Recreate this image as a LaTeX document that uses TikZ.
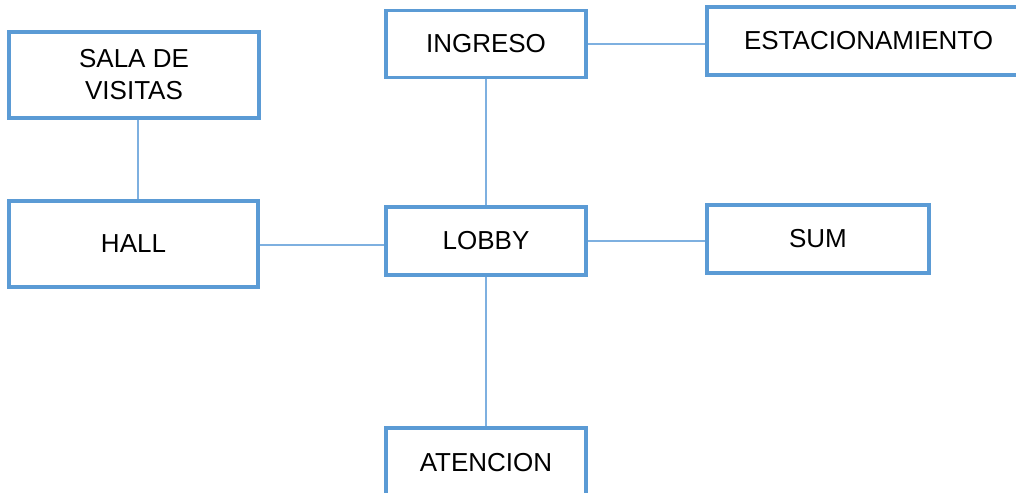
\documentclass[tikz,border=0pt]{standalone}
\usepackage{fontspec}
\setmainfont{Liberation Sans}
\definecolor{boxblue}{HTML}{5B9BD5}
\definecolor{linkblue}{HTML}{7EB0E0}
\tikzset{
  room/.style={draw=boxblue, line width=2.3pt, fill=white, rectangle,
    align=center, inner sep=0pt, text depth=1.2pt,
    font=\fontsize{19.5}{24}\selectfont},
  link/.style={draw=linkblue, line width=1.3pt}
}
\begin{document}
\begin{tikzpicture}[x=0.75pt,y=-0.75pt]
  \clip (0,0) rectangle (1016,492);
  \fill[white] (0,0) rectangle (1016,492);

  % rooms
  \node[room, minimum width=250*0.75pt, minimum height=86*0.75pt] (sala) at (134,75) {SALA DE\\VISITAS};
  \node[room, minimum width=249*0.75pt, minimum height=86*0.75pt] (hall) at (133.5,244) {HALL};
  \node[room, minimum width=200*0.75pt, minimum height=67*0.75pt] (ingreso) at (486,44) {INGRESO};
  \node[room, minimum width=323*0.75pt, minimum height=68*0.75pt] (estac) at (868.5,41) {ESTACIONAMIENTO};
  \node[room, minimum width=200*0.75pt, minimum height=68*0.75pt] (lobby) at (486,241) {LOBBY};
  \node[room, minimum width=222*0.75pt, minimum height=68*0.75pt] (sum) at (818,239) {SUM};
  \node[room, minimum width=200*0.75pt, minimum height=70*0.75pt] (atencion) at (486,463) {ATENCION};

  % connections
  \draw[link] ([xshift=3pt]sala.south) -- ([xshift=3pt]sala.south |- hall.north);
  \draw[link] ([yshift=-1pt]hall.east) -- ([yshift=-1pt]hall.east -| lobby.west);
  \draw[link] (ingreso.east) -- (ingreso.east -| estac.west);
  \draw[link] (ingreso.south) -- (lobby.north);
  \draw[link] (lobby.east) -- (lobby.east -| sum.west);
  \draw[link] (lobby.south) -- (atencion.north);
\end{tikzpicture}
\end{document}
